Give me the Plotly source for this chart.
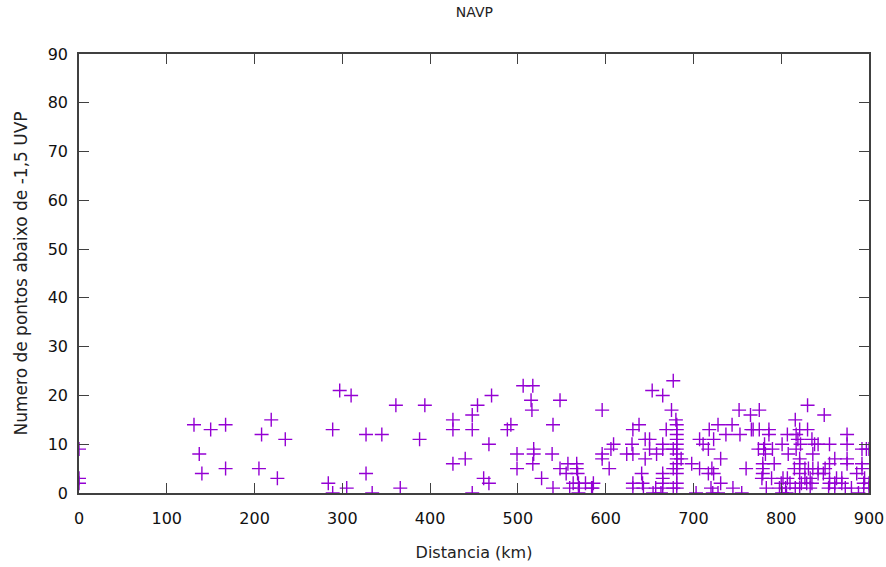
import plotly.graph_objects as go

# Distancia (km) and Numero de pontos abaixo de -1,5 UVP
distancia = [
    0, 0, 0, 131, 137, 140, 150, 167, 167, 205, 208, 219, 226, 235,
    284, 289, 289, 297, 305, 310, 327, 327, 334, 345, 361, 366, 388, 394,
    426, 426, 426, 440, 448, 448, 448, 454, 461, 467, 467, 470, 488, 492,
    499, 499, 506, 517, 515, 516, 518, 518, 517, 527, 540, 539, 540, 548,
    548, 555, 557, 559, 567, 567, 568, 563, 569, 570, 569, 577, 586, 585,
    584, 596, 596, 596, 604, 606, 609, 624, 630, 631, 631, 631, 631, 638,
    641, 642, 643, 645, 650, 650, 645, 658, 653, 654, 665, 677, 675, 680,
    669, 665, 665, 665, 665, 665, 665, 663, 657, 677, 677, 677,
    681, 681, 681, 681, 681, 681, 681, 681, 681, 681, 681, 681, 681,
    686, 698, 703, 707, 707, 711, 717, 718, 728, 723, 717, 723, 721, 720,
    722, 731, 731, 728, 737, 744, 745, 752, 753, 755, 760, 765, 766, 775,
    768, 775, 786, 786, 781, 774, 780, 790, 782, 779, 779, 779, 778, 789,
    783, 792, 798, 800, 802, 805, 807, 810, 801, 806, 801, 807, 808, 816,
    816, 821, 821, 815, 817, 819, 821, 830, 830, 822, 817, 821, 823, 821,
    835, 836, 838, 842, 855, 831, 836, 842, 833, 835, 833, 827, 827, 829,
    849, 850, 855, 842, 848, 855, 863, 869, 855, 861, 869, 854, 861, 873,
    880, 861, 875, 875, 875, 875, 886, 888, 892, 897, 892, 892, 894, 894,
    895, 900, 900, 900,
]
pontos = [
    9, 3, 2, 14, 8, 4, 13, 14, 5, 5, 12, 15, 3, 11,
    2, 13, 0, 21, 1, 20, 12, 4, 0, 12, 18, 1, 11, 18,
    15, 13, 6, 7, 16, 13, 0, 18, 3, 10, 2, 20, 13, 14,
    8, 5, 22, 22, 19, 17, 9, 8, 6, 3, 14, 8, 1, 19,
    5, 4, 6, 1, 6, 5, 4, 2, 2, 1, 0, 2, 2, 1,
    1, 17, 8, 7, 5, 9, 10, 8, 10, 13, 8, 2, 1, 14,
    4, 2, 1, 11, 11, 9, 7, 8, 21, 0, 20, 23, 17, 15,
    13, 10, 9, 4, 3, 2, 1, 0, 1, 9, 5, 1,
    14, 13, 12, 11, 10, 9, 8, 7, 6, 5, 4, 2, 1,
    7, 6, 0, 11, 5, 10, 9, 13, 14, 11, 4, 4, 5, 1,
    0, 7, 2, 0, 12, 14, 1, 17, 12, 0, 5, 16, 13, 17,
    13, 13, 13, 12, 10, 9, 9, 9, 8, 6, 5, 4, 3, 3,
    1, 6, 1, 2, 3, 1, 3, 2, 0, 0, 10, 12, 8, 15,
    1, 7, 6, 5, 12, 11, 13, 18, 13, 10, 9, 4, 2, 1,
    11, 8, 10, 10, 10, 5, 5, 5, 3, 2, 1, 5, 3, 2,
    16, 5, 6, 4, 4, 3, 3, 3, 2, 2, 2, 1, 1, 1,
    1, 7, 12, 10, 7, 6, 4, 0, 9, 9, 6, 5, 2, 1,
    3, 9, 2, 1,
]

x_ticks = [0, 100, 200, 300, 400, 500, 600, 700, 800, 900]
y_ticks = [0, 10, 20, 30, 40, 50, 60, 70, 80, 90]

FONT = "Verdana, DejaVu Sans, sans-serif"
AXIS_COLOR = "#404040"

fig = go.Figure(
    go.Scatter(
        x=distancia,
        y=pontos,
        mode="markers",
        marker=dict(symbol="cross-thin", size=10, line=dict(color="#9400D3", width=1.4), color="#9400D3"),
        cliponaxis=True,
        showlegend=False,
    )
)

fig.update_layout(
    width=886,
    height=567,
    paper_bgcolor="white",
    plot_bgcolor="white",
    margin=dict(l=79, r=17, t=54, b=74, autoexpand=False),
    title=dict(text="NAVP", x=0.5355, xanchor="center", y=0.978, yanchor="middle",
               font=dict(family=FONT, size=14, color="#222")),
    font=dict(family=FONT, size=16, color="#111"),
    annotations=[
        dict(text="Numero de pontos abaixo de -1,5 UVP", xref="paper", yref="paper",
             x=(20 - 79) / 790, y=0.5, xanchor="center", yanchor="middle", textangle=-90,
             showarrow=False, font=dict(family=FONT, size=17, color="#222")),
    ],
)

fig.update_xaxes(
    range=[0, 900],
    tickvals=x_ticks,
    ticks="inside",
    ticklen=10,
    tickwidth=1,
    tickcolor=AXIS_COLOR,
    showline=True,
    linecolor=AXIS_COLOR,
    linewidth=1.5,
    mirror="ticks",
    showgrid=False,
    zeroline=False,
    automargin=False,
    ticklabelstandoff=10,
    tickfont=dict(family=FONT, size=16, color="#111"),
    title=dict(text="Distancia (km)", font=dict(family=FONT, size=16, color="#222"), standoff=20),
)
fig.update_yaxes(
    range=[0, 90],
    tickvals=y_ticks,
    ticks="inside",
    ticklen=10,
    tickwidth=1,
    tickcolor=AXIS_COLOR,
    showline=True,
    linecolor=AXIS_COLOR,
    linewidth=1.5,
    mirror="ticks",
    showgrid=False,
    zeroline=False,
    automargin=False,
    ticklabelstandoff=6,
    tickfont=dict(family=FONT, size=16, color="#111"),
)

fig.write_html("out.html")
